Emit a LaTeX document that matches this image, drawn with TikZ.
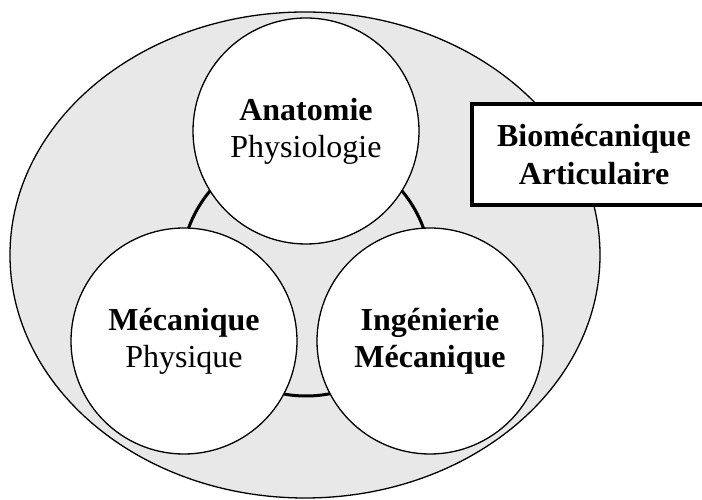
\documentclass[tikz,border=0pt]{standalone}
\usepackage{fontspec}
\setmainfont{Liberation Serif}
\usepackage{tikz}
\usetikzlibrary{positioning,calc}
\definecolor{fond}{gray}{0.91}
\tikzstyle{domaine}=[draw,fill=white,circle,line width=1.3pt,minimum size=226pt,inner sep=0pt,align=center,font=\fontsize{32}{37}\selectfont]
\tikzstyle{titre}=[draw,fill=white,line width=4pt,minimum width=244pt,minimum height=101pt,align=center,font=\fontsize{32}{38}\selectfont\bfseries]

\begin{document}
\begin{tikzpicture}[x=1pt,y=1pt]
\useasboundingbox (0,0) rectangle (702,500);
\filldraw[fill=fond,line width=1.3pt] (305,245) ellipse [x radius=295, y radius=243];
\draw[line width=3pt] (306,229) circle (125);
\node [domaine] (anat) at (306,369) {\textbf{Anatomie}\\Physiologie};
\node [domaine] (meca) at (184,159) {\textbf{Mécanique}\\Physique};
\node [domaine] (inge) at (430,159) {\textbf{Ingénierie}\\\textbf{Mécanique}};
\node [titre] (bioart) at (594,345.5) {Biomécanique\\Articulaire};
\end{tikzpicture}
\end{document}
